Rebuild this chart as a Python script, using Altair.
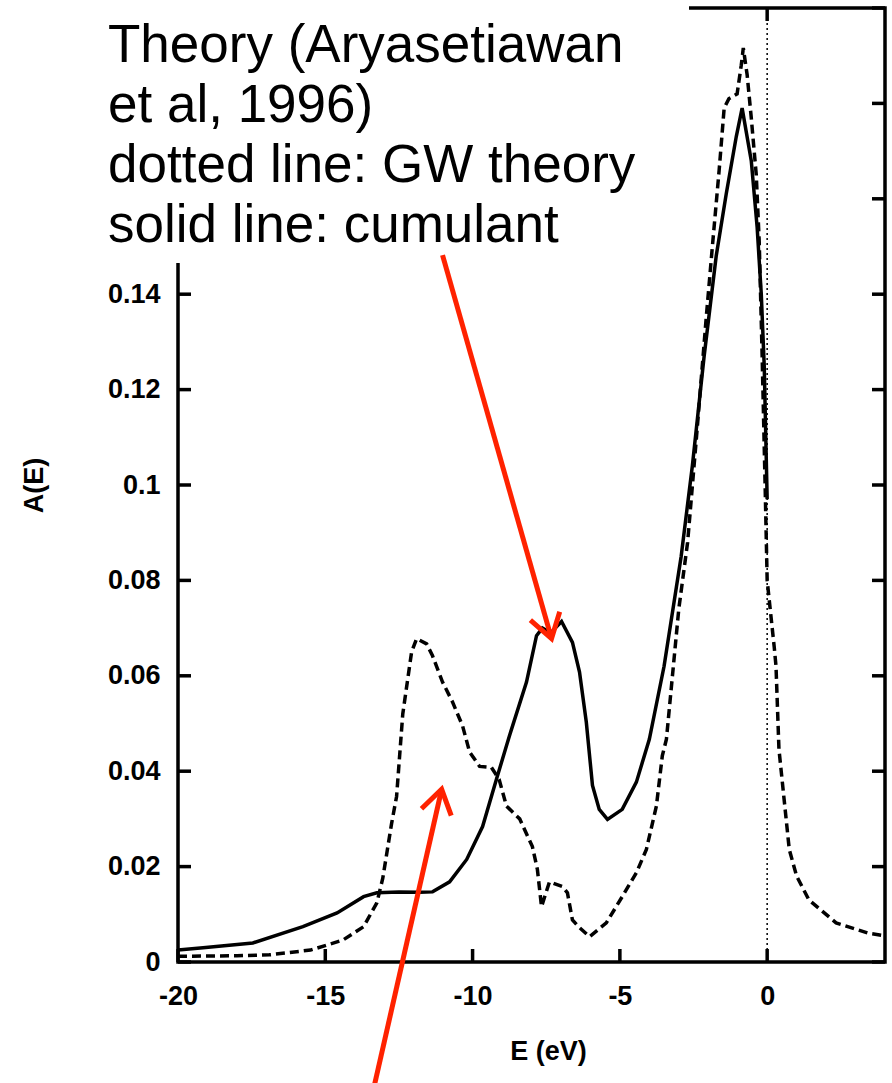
import altair as alt
import pandas as pd

# GW theory (dashed)
E_gw = [-20, -18, -16.9, -15.5, -14.4, -13.7, -13.25, -13.05, -12.75, -12.58,
        -12.37, -12.07, -11.9, -11.56, -11.36, -11.02, -10.68, -10.34, -10.1, -9.76,
        -9.36, -9.1, -8.85, -8.4, -7.97, -7.8, -7.66, -7.39, -6.95, -6.78,
        -6.61, -6.37, -6.03, -5.46, -4.92, -4.44, -4.1, -3.76, -3.56, -3.42,
        -3.0, -2.7, -2.4, -2.07, -1.86, -1.63, -1.46, -1.3, -1.02, -0.88,
        -0.81, -0.68, -0.54, -0.37, -0.27, -0.17, -0.07, 0.0, 0.24, 0.3,
        0.4, 0.75, 1.0, 1.42, 2.34, 3.46, 4.0]
A_gw = [0.0012, 0.0013, 0.0015, 0.0025, 0.0046, 0.0074, 0.0124, 0.0175, 0.029, 0.0347,
        0.052, 0.065, 0.0678, 0.0667, 0.0642, 0.0587, 0.0545, 0.0495, 0.044, 0.041,
        0.0408, 0.0383, 0.0327, 0.030, 0.0242, 0.0194, 0.0116, 0.0168, 0.0158, 0.0145,
        0.0088, 0.0072, 0.0053, 0.0082, 0.0137, 0.0187, 0.0236, 0.0327, 0.0432, 0.0467,
        0.074, 0.088, 0.110, 0.135, 0.150, 0.166, 0.179, 0.181, 0.182, 0.188,
        0.1916, 0.186, 0.177, 0.165, 0.151, 0.127, 0.100, 0.080, 0.066, 0.062,
        0.0446, 0.0236, 0.018, 0.013, 0.0082, 0.006, 0.0055]

# cumulant (solid)
E_cu = [-20, -19.15, -17.46, -15.76, -14.6, -13.7, -13.25, -12.5, -11.8, -11.36,
        -10.78, -10.2, -9.66, -9.19, -8.75, -8.17, -7.83, -7.63, -7.35, -6.98,
        -6.61, -6.37, -6.14, -5.93, -5.7, -5.42, -4.92, -4.44, -4.0, -3.5,
        -2.92, -2.54, -2.14, -1.73, -1.39, -1.05, -0.85, -0.54, -0.34, -0.2,
        -0.1, 0.0]
A_cu = [0.0025, 0.003, 0.004, 0.0074, 0.0103, 0.0137, 0.0145, 0.0147, 0.0146, 0.0147,
        0.0168, 0.0215, 0.0284, 0.0383, 0.0474, 0.0587, 0.0684, 0.070, 0.069, 0.0714,
        0.067, 0.0608, 0.0503, 0.037, 0.032, 0.0299, 0.032, 0.0377, 0.0467, 0.062,
        0.085, 0.104, 0.127, 0.148, 0.161, 0.173, 0.179, 0.168, 0.154, 0.14,
        0.125, 0.097]

x_ticks = [-20, -15, -10, -5, 0]
y_ticks = [0, 0.02, 0.04, 0.06, 0.08, 0.1, 0.12, 0.14, 0.16, 0.18, 0.2]
y_labels = [0, 0.02, 0.04, 0.06, 0.08, 0.1, 0.12, 0.14]
zero_line = [0]

arrow_tail_E = [-11.02, -13.32]
arrow_tail_A = [0.1482, -0.0255]
arrow_head_E = [-7.32, -11.05]
arrow_head_A = [0.0678, 0.0362]
arrow_angle = [164, 13]

note_lines = ["Theory (Aryasetiawan", "et al, 1996)", "dotted line: GW theory", "solid line: cumulant"]

W, H = 707, 954
LABEL_FONT = "Liberation Sans"
RED = "#ff2200"

xs = alt.Scale(domain=[-20, 4], nice=False, zero=False)
ys = alt.Scale(domain=[0, 0.2], nice=False, zero=False)

x_axis = alt.Axis(values=x_ticks, labelExpr="'' + datum.value", ticks=False, tickSize=0,
                  domain=False, grid=False, labelFont=LABEL_FONT, labelFontSize=27,
                  labelFontWeight="bold", labelColor="black", labelPadding=21,
                  labelFlush=False, labelOverlap=False,
                  title="E (eV)", titleFont=LABEL_FONT, titleFontSize=27, titleFontWeight="bold",
                  titleColor="black", titleX=370, titleY=97, titleBaseline="alphabetic",
                  titleAlign="center")
y_axis = alt.Axis(values=y_labels, labelExpr="'' + datum.value", ticks=False, tickSize=0,
                  domain=False, grid=False, labelFont=LABEL_FONT, labelFontSize=27,
                  labelFontWeight="bold", labelColor="black", labelPadding=18,
                  labelFlush=False, labelOverlap=False,
                  title="A(E)", titleFont=LABEL_FONT, titleFontSize=27, titleFontWeight="bold",
                  titleColor="black", titleX=-144, titleY=477, titleAngle=270,
                  titleAlign="center", titleBaseline="middle")


def X(field):
    return alt.X(field, scale=xs, axis=x_axis)


def Y(field):
    return alt.Y(field, scale=ys, axis=y_axis)


gw = pd.DataFrame({"E": E_gw, "A": A_gw})
cu = pd.DataFrame({"E": E_cu, "A": A_cu})

gw_line = alt.Chart(gw).mark_line(color="black", strokeWidth=3.5, strokeDash=[9, 5], clip=True).encode(
    x=X("E:Q"), y=Y("A:Q"))
cu_line = alt.Chart(cu).mark_line(color="black", strokeWidth=3.5, clip=True).encode(
    x=X("E:Q"), y=Y("A:Q"))

zero_rule = alt.Chart(pd.DataFrame({"E": zero_line})).mark_rule(
    color="black", strokeWidth=1.5, strokeDash=[2, 3]).encode(x=X("E:Q"))

xt = pd.DataFrame({"E": x_ticks})
yt = pd.DataFrame({"A": y_ticks})
tick_style = dict(color="black", strokeWidth=3.5)
bottom_ticks = alt.Chart(xt).mark_rule(**tick_style).encode(
    x=X("E:Q"), y=alt.value(H), y2=alt.value(H - 13))
top_ticks = alt.Chart(xt).mark_rule(**tick_style).encode(
    x=X("E:Q"), y=alt.value(0), y2=alt.value(13))
left_ticks = alt.Chart(yt).mark_rule(**tick_style).encode(
    y=Y("A:Q"), x=alt.value(0), x2=alt.value(13))
right_ticks = alt.Chart(yt).mark_rule(**tick_style).encode(
    y=Y("A:Q"), x=alt.value(W - 13), x2=alt.value(W))

one = pd.DataFrame({"k": [0]})
frame = alt.Chart(one).mark_rect(filled=False, stroke="black", strokeWidth=3.5).encode(
    x=alt.value(0), x2=alt.value(W), y=alt.value(0), y2=alt.value(H))

mask = alt.Chart(one).mark_rect(color="white", opacity=1).encode(
    x=alt.value(-178), x2=alt.value(511), y=alt.value(-8), y2=alt.value(255))

note = alt.Chart(one).mark_text(text=note_lines, align="left", baseline="alphabetic",
                                font="Liberation Sans", fontSize=53, lineHeight=60,
                                color="black").encode(
    x=alt.value(-70), y=alt.value(54))

arrows_df = pd.DataFrame({"E": arrow_tail_E, "A": arrow_tail_A,
                          "hE": arrow_head_E, "hA": arrow_head_A, "ang": arrow_angle})
arrow_lines = alt.Chart(arrows_df).mark_rule(color=RED, strokeWidth=5).encode(
    x=X("E:Q"), y=Y("A:Q"), x2="hE:Q", y2="hA:Q")
arrow_heads = alt.Chart(arrows_df).mark_point(
    shape="M -0.545 0.84 L 0 0 L 0.545 0.84", filled=False, stroke=RED, strokeWidth=5,
    size=3136, opacity=1, strokeJoin="miter").encode(
    x=alt.X("hE:Q", scale=xs, axis=x_axis), y=alt.Y("hA:Q", scale=ys, axis=y_axis),
    angle=alt.Angle("ang:Q", scale=None))

chart = alt.layer(
    gw_line, cu_line, zero_rule, bottom_ticks, top_ticks, left_ticks, right_ticks,
    frame, mask, note, arrow_lines, arrow_heads
).properties(
    width=W, height=H,
    padding={"left": 178, "top": 8, "right": 7, "bottom": 121},
    autosize=alt.AutoSizeParams(type="none"),
    background="white"
).configure_view(stroke=None)

chart.save("out.html", embed_options={"renderer": "svg", "actions": False})
